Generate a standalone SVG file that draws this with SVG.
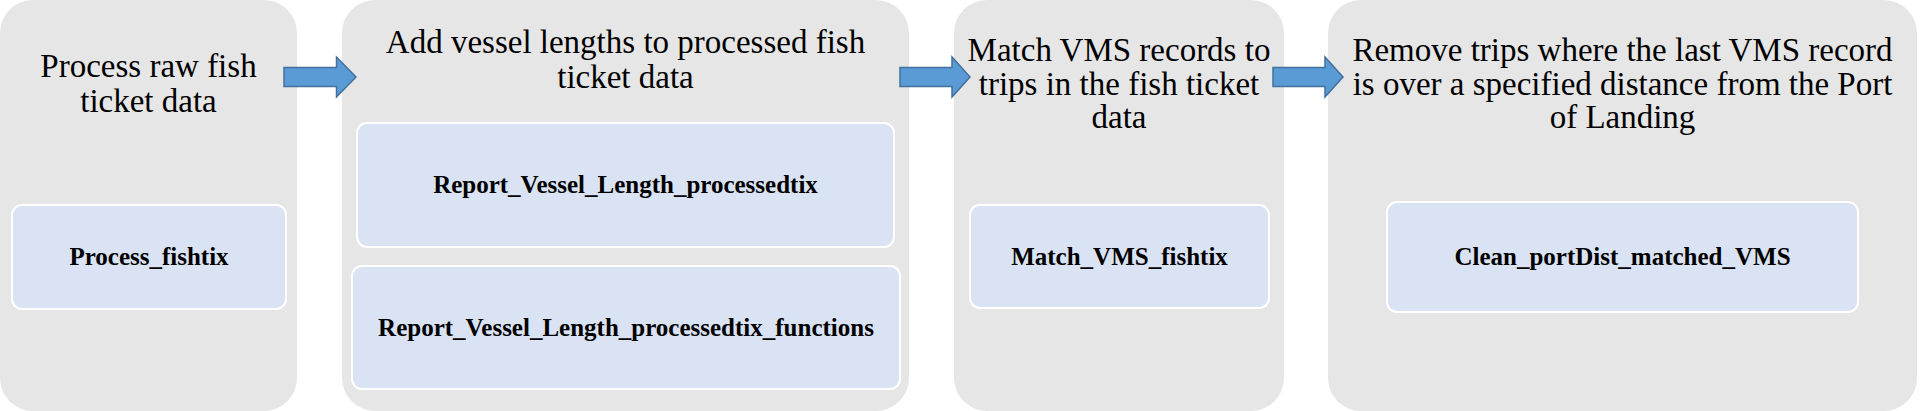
<svg xmlns="http://www.w3.org/2000/svg" width="1923" height="411" viewBox="0 0 1923 411">
<style>
.panel{fill:#E6E6E6;}
.box{fill:#DAE3F3;stroke:#FFFFFF;stroke-width:2;}
.title{font-family:"Liberation Serif","Times New Roman",serif;font-size:33px;fill:#000;text-anchor:middle;}
.label{font-family:"Liberation Serif","Times New Roman",serif;font-size:25px;font-weight:bold;fill:#000;text-anchor:middle;}
.arrow{fill:#5B9BD5;stroke:#41719C;stroke-width:1.5;}
</style>
<rect width="1923" height="411" fill="#FFFFFF"/>
<g id="step1">
<rect class="panel" x="0" y="0" width="297" height="411" rx="33" ry="33"/>
<text class="title" x="148.5" y="77">Process raw fish</text>
<text class="title" x="148.5" y="111.5">ticket data</text>
<g id="process_fishtix">
<rect class="box" x="12" y="205" width="274" height="104" rx="10" ry="10"/>
<text class="label" x="149" y="265">Process_fishtix</text>
</g>
</g>
<g id="step2">
<rect class="panel" x="342" y="0" width="567" height="411" rx="33" ry="33"/>
<text class="title" x="625.5" y="53">Add vessel lengths to processed fish</text>
<text class="title" x="625.5" y="87.5">ticket data</text>
<g id="report_vessel_length">
<rect class="box" x="357" y="123" width="537" height="124" rx="10" ry="10"/>
<text class="label" x="625.5" y="193">Report_Vessel_Length_processedtix</text>
</g>
<g id="report_vessel_length_functions">
<rect class="box" x="352" y="266" width="548" height="123" rx="10" ry="10"/>
<text class="label" x="626" y="335.5">Report_Vessel_Length_processedtix_functions</text>
</g>
</g>
<g id="step3">
<rect class="panel" x="954" y="0" width="330" height="411" rx="33" ry="33"/>
<text class="title" x="1119" y="61">Match VMS records to</text>
<text class="title" x="1119" y="94.5">trips in the fish ticket</text>
<text class="title" x="1119" y="128">data</text>
<g id="match_vms_fishtix">
<rect class="box" x="970" y="205" width="299" height="103" rx="10" ry="10"/>
<text class="label" x="1119.5" y="265">Match_VMS_fishtix</text>
</g>
</g>
<g id="step4">
<rect class="panel" x="1328" y="0" width="589" height="411" rx="33" ry="33"/>
<text class="title" x="1622.5" y="61">Remove trips where the last VMS record</text>
<text class="title" x="1622.5" y="94.5">is over a specified distance from the Port</text>
<text class="title" x="1622.5" y="128">of Landing</text>
<g id="clean_portdist">
<rect class="box" x="1387" y="202" width="471" height="110" rx="10" ry="10"/>
<text class="label" x="1622.5" y="265">Clean_portDist_matched_VMS</text>
</g>
</g>
<g id="connectors">
<path class="arrow" d="M284,67.5 H336.5 V57 L356,77 L336.5,97 V86.5 H284 Z"/>
<path class="arrow" d="M900,67.5 H952 V57 L970,77 L952,97 V86.5 H900 Z"/>
<path class="arrow" d="M1273,67.5 H1325 V57 L1343,77 L1325,97 V86.5 H1273 Z"/>
</g>
</svg>
